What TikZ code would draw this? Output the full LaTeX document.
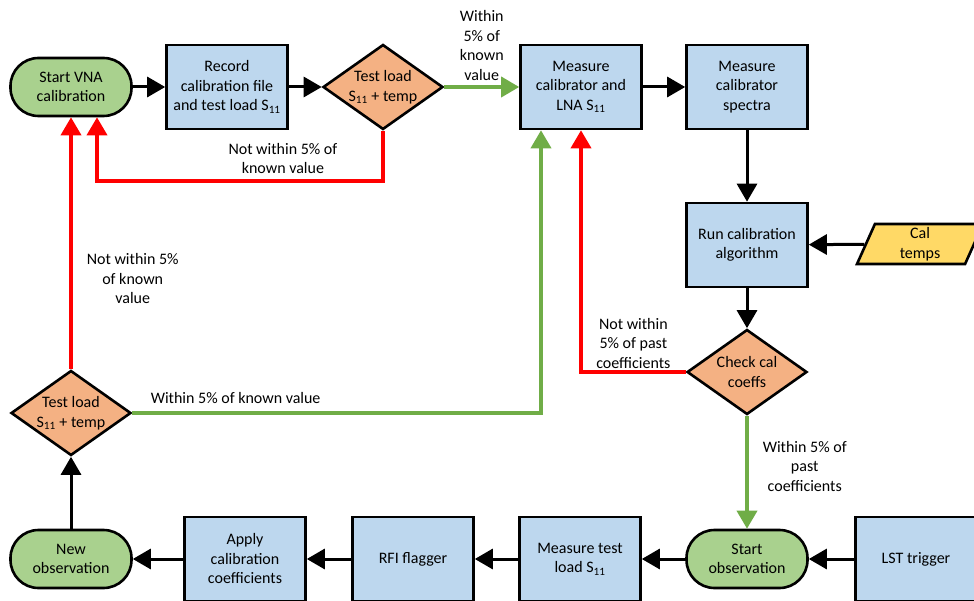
\documentclass[tikz,border=0pt]{standalone}
\usepackage{fontspec}
\setmainfont{Carlito}
\usepackage{tikz}
\usetikzlibrary{arrows.meta,calc,positioning,shapes.geometric}
\definecolor{termgreen}{HTML}{A9D18E}
\definecolor{stepblue}{HTML}{BDD7EE}
\definecolor{testorange}{HTML}{F4B183}
\definecolor{inyellow}{HTML}{FFD966}
\definecolor{okgreen}{HTML}{70AD47}
\definecolor{failred}{HTML}{FF0000}
\tikzset{
  base/.style={draw=black,line width=2.6pt,align=center,font=\fontsize{16}{19.5}\selectfont},
  term/.style={base,fill=termgreen,rectangle,rounded corners=28pt,minimum width=121pt,minimum height=58pt},
  stepbox/.style={base,fill=stepblue,rectangle,minimum width=121pt,minimum height=84pt},
  test/.style={base,fill=testorange,diamond,aspect=1.41,inner sep=-1pt,minimum width=120pt,minimum height=85pt},
  indata/.style={base,fill=inyellow,trapezium,trapezium left angle=63,trapezium right angle=117,
    trapezium stretches body,inner sep=1pt,minimum width=126pt,minimum height=40pt},
  arr/.style={line width=3pt,-{Triangle[length=18pt,width=20pt]}},
  okarr/.style={arr,line width=3.6pt,okgreen},
  failarr/.style={arr,line width=3.6pt,failred},
  note/.style={text=black,align=center,inner sep=2pt,font=\fontsize{16}{19.5}\selectfont}
}
\begin{document}
\begin{tikzpicture}[x=1pt,y=-1pt]
%one unit = one pixel of the original, y runs downwards
\useasboundingbox[fill=white] (0,0) rectangle (974,601);
%upper row
\node[term] (vna) at (71,87) {Start VNA\\calibration};
\node[stepbox] (rec) at (227,87) {Record\\calibration file\\and test load S\textsubscript{11}};
\node[test] (tla) at (383,87) {Test load\\S\textsubscript{11} + temp};
\node[stepbox] (lna) at (581,87) {Measure\\calibrator and\\LNA S\textsubscript{11}};
\node[stepbox] (spec) at (747,87) {Measure\\calibrator\\spectra};
%right column
\node[stepbox] (run) at (747,245) {Run calibration\\algorithm};
\node[indata] (calt) at (920,244) {Cal\\temps};
\node[test] (chk) at (747,372) {Check cal\\coeffs};
%lower row
\node[term] (sobs) at (747,559) {Start\\observation};
\node[stepbox] (lst) at (916,559) {LST trigger};
\node[stepbox] (mtl) at (580,559) {Measure test\\load S\textsubscript{11}};
\node[stepbox] (rfi) at (413,559) {RFI flagger};
\node[stepbox] (app) at (245,559) {Apply\\calibration\\coefficients};
\node[term] (nobs) at (71,559) {New\\observation};
\node[test] (tlb) at (71,413) {Test load\\S\textsubscript{11} + temp};

\draw[arr] (vna) -- (rec);
\draw[arr] (rec) -- (tla);
\draw[okarr] (tla) -- node[note,above,yshift=3pt] (okA) {Within\\5\% of\\known\\value} (lna);
\draw[failarr] (tla.south) -- ++(0,50) -| node[note,pos=0.175,above,yshift=3pt] (failA) {Not within 5\% of\\known value} ([xshift=26pt]vna.south);
\draw[arr] (lna) -- (spec);
\draw[arr] (spec) -- (run);
\draw[arr] (calt) -- (run);
\draw[arr] (run) -- (chk);
\draw[failarr] (chk.west) -| node[note,pos=0.25,above] (failB) {Not within\\5\% of past\\coefficients} (lna.south);
\draw[okarr] (chk.south) -- node[note,right,xshift=12pt,yshift=6pt] (okB) {Within 5\% of\\past\\coefficients} (sobs.north);
\foreach \a/\b in {lst/sobs,sobs/mtl,mtl/rfi,rfi/app,app/nobs}{
  \draw[arr] (\a) -- (\b);
}
\draw[arr] (nobs) -- (tlb);
\draw[failarr] (tlb.north) -- node[note,pos=0.36,right,xshift=12pt] (failC) {Not within 5\%\\of known\\value} (vna.south);
\draw[okarr] (tlb.east) -| node[note,pos=0.018,above right,yshift=6pt] (okC) {Within 5\% of known value} ([xshift=-40pt]lna.south);
\end{tikzpicture}
\end{document}
